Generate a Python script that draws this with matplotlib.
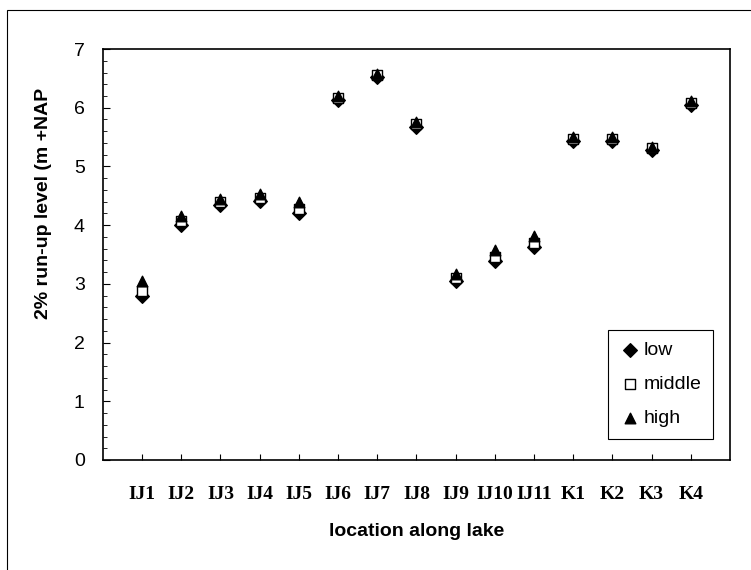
import matplotlib
matplotlib.use("Agg")
import matplotlib.pyplot as plt
import numpy as np
from matplotlib.patches import Rectangle
from matplotlib.ticker import MultipleLocator

locations = ['IJ1', 'IJ2', 'IJ3', 'IJ4', 'IJ5', 'IJ6', 'IJ7', 'IJ8',
             'IJ9', 'IJ10', 'IJ11', 'K1', 'K2', 'K3', 'K4']
low = [2.80, 4.00, 4.34, 4.41, 4.21, 6.13, 6.53, 5.68, 3.05, 3.39, 3.63, 5.43, 5.43, 5.28, 6.05]
middle = [2.88, 4.07, 4.40, 4.47, 4.28, 6.17, 6.56, 5.72, 3.10, 3.46, 3.70, 5.47, 5.47, 5.31, 6.08]
high = [3.05, 4.16, 4.45, 4.53, 4.40, 6.20, 6.58, 5.76, 3.17, 3.58, 3.82, 5.50, 5.50, 5.33, 6.12]

x = np.arange(1, len(locations) + 1)

fig = plt.figure(figsize=(7.51, 5.70), dpi=100)
ax = fig.add_axes([0.137, 0.193, 0.835, 0.721])

# outer frame round the whole chart
fig.patches.append(Rectangle((0.009, -0.01), 1.1, 0.992, transform=fig.transFigure,
                             fill=False, edgecolor='black', linewidth=0.8))

ax.scatter(x, low, marker='D', s=48, color='black', label='low', zorder=3)
ax.scatter(x, middle, marker='s', s=50, facecolor='white', edgecolor='black',
           linewidth=1.0, label='middle', zorder=3)
ax.scatter(x, high, marker='^', s=58, color='black', label='high', zorder=3)

ax.set_xlim(0, 16)
ax.set_ylim(0, 7)
ax.set_xticks(x)
ax.set_xticklabels(locations, fontfamily='Liberation Serif', fontweight='bold', fontsize=14)
ax.yaxis.set_major_locator(MultipleLocator(1))
ax.yaxis.set_minor_locator(MultipleLocator(0.2))
ax.tick_params(axis='y', which='major', direction='in', length=5, pad=13, labelsize=14)
ax.tick_params(axis='y', which='minor', direction='in', length=3)
ax.tick_params(axis='x', direction='in', length=4, pad=19)
for lab in ax.get_yticklabels():
    lab.set_fontfamily('Liberation Sans')

for sp in ax.spines.values():
    sp.set_linewidth(1.2)

ax.set_xlabel('location along lake', fontfamily='Liberation Sans', fontweight='bold',
              fontsize=14, labelpad=14)
ax.set_ylabel('2% run-up level (m +NAP', fontfamily='Liberation Sans', fontweight='bold',
              fontsize=14)
ax.yaxis.set_label_coords(-0.081, 0.625)

leg = ax.legend(loc='lower right', bbox_to_anchor=(0.973, 0.051), fancybox=False,
                edgecolor='black', framealpha=1, prop={'family': 'Liberation Sans', 'size': 14},
                handletextpad=0.15, handlelength=1.1, labelspacing=0.85, borderpad=0.6,
                borderaxespad=0, scatterpoints=1)
leg.get_frame().set_linewidth(0.8)

fig.savefig('out.png', dpi=100)
